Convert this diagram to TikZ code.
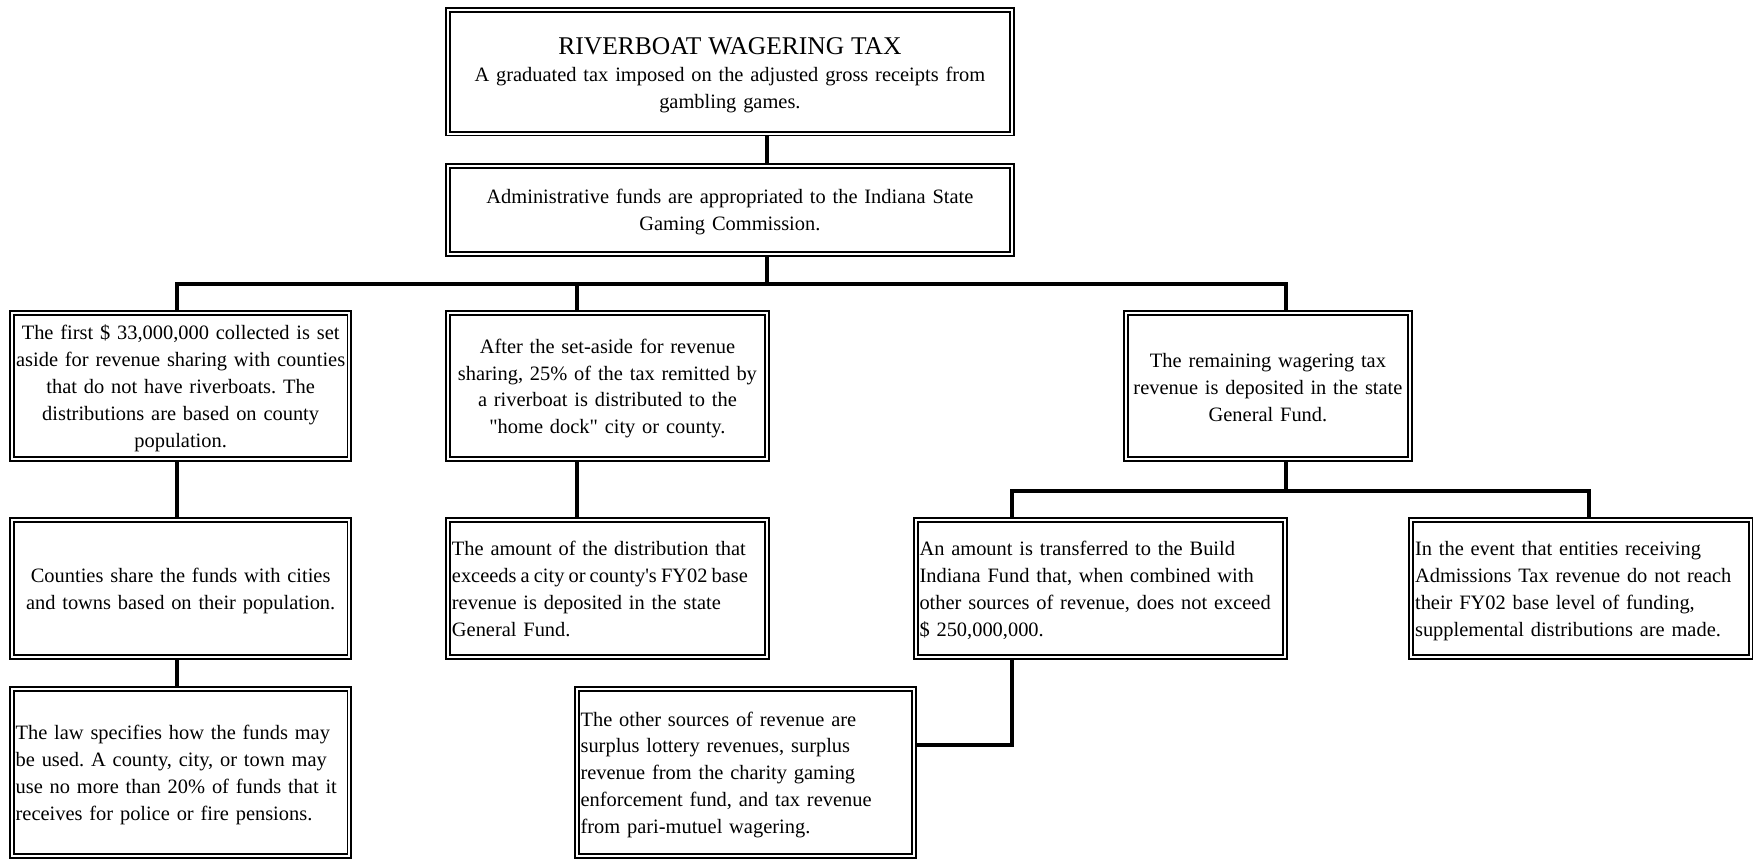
\documentclass[tikz,border=0pt]{standalone}
\usepackage{fontspec}
\setmainfont{Liberation Serif}[Ligatures=TeXOff]
\usetikzlibrary{backgrounds}
\frenchspacing

\newcommand{\bodyfont}{\fontsize{13.7}{18}\selectfont}
\newcommand{\titlefont}{\fontsize{17.1}{18}\selectfont}
% a block of hand-broken lines, nudged slightly down inside its box
\newcommand{\leftlines}[2][3pt]{\vbox{\vskip #1\hbox{\begin{tabular}{@{}l@{}}#2\end{tabular}}}}
\newcommand{\centerlines}[2][3pt]{\vbox{\vskip #1\hbox{\begin{tabular}{@{}c@{}}#2\end{tabular}}}}
% a line set with slightly tighter word spaces
\newcommand{\tightline}[1]{{\spaceskip=0.2em plus 0.1em\relax #1}}

\tikzset{
  % double-ruled box: two 1.3pt rules with a 1.3pt gap
  framebox/.style={draw, double, line width=1.3pt, double distance=1.3pt,
    inner sep=0pt, font=\bodyfont},
  ctext/.style={framebox, align=center},
  ltext/.style={framebox, align=left},
  % box size given by its outer edges (in drawing units)
  boxsize/.code 2 args={%
    \pgfmathsetmacro\myboxwd{#1*0.75-3.9}%
    \pgfmathsetmacro\myboxht{#2*0.75-3.9}%
    \pgfmathsetmacro\mytextwd{#1*0.75-9}%
    \edef\mytmp{\noexpand\tikzset{minimum width=\myboxwd pt,
      minimum height=\myboxht pt, text width=\mytextwd pt}}\mytmp},
  wire/.style={line width=2.7pt, line join=miter}
}

\begin{document}
\begin{tikzpicture}[x=0.75pt, y=-0.75pt]
\useasboundingbox (0,0) rectangle (1568,768);

% top of the chart
\node[ctext, boxsize={509}{116}] (tax) at (652.5,64)
  {\centerlines[6pt]{{\titlefont RIVERBOAT WAGERING TAX}\\[0.75pt]
   A graduated tax imposed on the adjusted gross receipts from\\
   gambling games.}};
\node[ctext, boxsize={509}{84}] (admin) at (652.5,188)
  {\centerlines[1.8pt]{Administrative funds are appropriated to the Indiana State\\
   Gaming Commission.}};

% second row
\node[ctext, boxsize={307}{136}] (setaside) at (161.5,345)
  {\centerlines{The first \$ 33,000,000 collected is set\\
   aside for revenue sharing with counties\\
   that do not have riverboats. The\\
   distributions are based on county\\
   population.}};
\node[ctext, boxsize={290}{136}] (homedock) at (543,345)
  {\centerlines{After the set-aside for revenue\\
   sharing, 25\% of the tax remitted by\\
   a riverboat is distributed to the\\
   "home dock" city or county.}};
\node[ctext, boxsize={259}{136}] (remain) at (1133.5,345)
  {\centerlines[4.5pt]{The remaining wagering tax\\
   revenue is deposited in the state\\
   General Fund.}};

% third row
\node[ctext, boxsize={307}{128}] (counties) at (161.5,526)
  {\centerlines{Counties share the funds with cities\\
   and towns based on their population.}};
\node[ltext, boxsize={290}{128}] (excess) at (543,526)
  {\leftlines{The amount of the distribution that\\
   \tightline{exceeds a city or county's FY02 base}\\
   revenue is deposited in the state\\
   General Fund.}};
\node[ltext, boxsize={335}{128}] (build) at (983.5,526)
  {\leftlines{An amount is transferred to the Build\\
   Indiana Fund that, when combined with\\
   other sources of revenue, does not exceed\\
   \$ 250,000,000.}};
\node[ltext, boxsize={308.5}{128}] (admissions) at (1413.25,526)
  {\leftlines{In the event that entities receiving\\
   Admissions Tax revenue do not reach\\
   their FY02 base level of funding,\\
   supplemental distributions are made.}};

% bottom row
\node[ltext, boxsize={307}{154.5}] (law) at (161.5,690.25)
  {\leftlines{The law specifies how the funds may\\
   be used. A county, city, or town may\\
   use no more than 20\% of funds that it\\
   receives for police or fire pensions.}};
\node[ltext, boxsize={307}{154.5}] (sources) at (666.5,690.25)
  {\leftlines{The other sources of revenue are\\
   surplus lottery revenues, surplus\\
   revenue from the charity gaming\\
   enforcement fund, and tax revenue\\
   from pari-mutuel wagering.}};

% connectors, kept behind the box rules
\begin{pgfonlayer}{background}
  \coordinate (busA) at (685.4,254);
  \coordinate (busB) at (1150,438.7);
  \coordinate (colA) at (158,0);
  \coordinate (colB) at (515.5,0);
  \coordinate (colC) at (905,0);
  \coordinate (colD) at (1420.5,0);
  \coordinate (elbow) at (905,666);

  \draw[wire] (tax.south -| busA) -- (admin.north -| busA);
  \draw[wire] (admin.south -| busA) -- (busA);
  \draw[wire] (setaside.north -| colA) |- (busA) -| (remain.north -| busB);
  \draw[wire] (homedock.north -| colB) -- (busA -| colB);

  \draw[wire] (setaside.south -| colA) -- (counties.north -| colA);
  \draw[wire] (counties.south -| colA) -- (law.north -| colA);
  \draw[wire] (homedock.south -| colB) -- (excess.north -| colB);

  \draw[wire] (remain.south -| busB) -- (busB);
  \draw[wire] (build.north -| colC) |- (busB) -| (admissions.north -| colD);
  \draw[wire] (build.south -| elbow) -- (elbow) -- (sources.east |- elbow);
\end{pgfonlayer}
\end{tikzpicture}
\end{document}
